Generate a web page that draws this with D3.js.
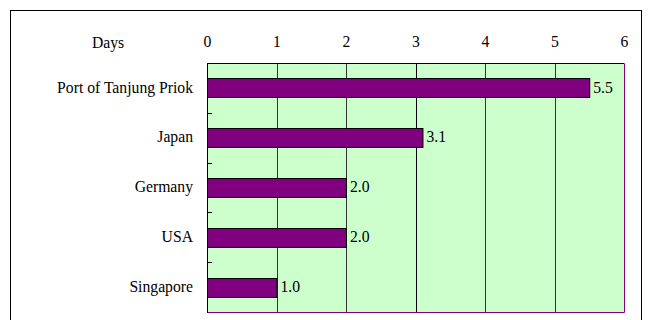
<!DOCTYPE html>
<html>
<head>
<meta charset="utf-8">
<script src="https://cdn.jsdelivr.net/npm/d3@7"></script>
<style>
  body { margin: 0; background: #fff; }
  svg text { font-family: 'Liberation Serif', 'Times New Roman', Times, serif !important; fill: #000; }
</style>
</head>
<body>
<svg width="652" height="320"></svg>
<script>
// data
const categories = ["Port of Tanjung Priok", "Japan", "Germany", "USA", "Singapore"];
const days = [5.5, 3.1, 2.0, 2.0, 1.0];
const xTicks = [0, 1, 2, 3, 4, 5, 6];

const svg = d3.select("svg");
const plot = { left: 207, top: 63, right: 624, bottom: 312 };
const fontSize = 15.7;

// outer frame
svg.append("rect")
    .attr("x", 10.5).attr("y", 10.5)
    .attr("width", 631).attr("height", 330)
    .attr("fill", "none").attr("stroke", "#000").attr("stroke-width", 1);

const x = d3.scaleLinear().domain([0, 6]).range([plot.left, plot.right]);
const y = d3.scaleBand().domain(categories)
    .range([plot.top, plot.bottom])
    .paddingInner(0.62).paddingOuter(0.31);
const step = y.step();

// plot background
svg.append("rect")
    .attr("x", plot.left).attr("y", plot.top)
    .attr("width", plot.right - plot.left).attr("height", plot.bottom - plot.top)
    .attr("fill", "#ccffcc");

// vertical grid
svg.append("g").selectAll("line")
    .data(xTicks.filter(d => d > 0 && d < 6))
    .join("line")
    .attr("x1", d => Math.round(x(d)) + 0.5).attr("x2", d => Math.round(x(d)) + 0.5)
    .attr("y1", plot.top).attr("y2", plot.bottom)
    .attr("stroke", d => d === 3 ? "#000" : "#333");

// plot border: top black, right/bottom purple
svg.append("line")
    .attr("x1", plot.left).attr("x2", plot.right + 0.5)
    .attr("y1", plot.top + 0.5).attr("y2", plot.top + 0.5)
    .attr("stroke", "#000");
svg.append("line")
    .attr("x1", plot.right + 0.5).attr("x2", plot.right + 0.5)
    .attr("y1", plot.top + 1).attr("y2", plot.bottom + 0.5)
    .attr("stroke", "#800080");
svg.append("line")
    .attr("x1", plot.left).attr("x2", plot.right + 0.5)
    .attr("y1", plot.bottom + 0.5).attr("y2", plot.bottom + 0.5)
    .attr("stroke", "#800080");

// bars
svg.append("g").selectAll("rect")
    .data(days)
    .join("rect")
    .attr("x", x(0) + 0.5)
    .attr("y", (d, i) => Math.round(y(categories[i])) + 0.5)
    .attr("width", d => x(d) - x(0))
    .attr("height", y.bandwidth())
    .attr("fill", "#800080")
    .attr("stroke", "#000");

// value labels
svg.append("g").selectAll("text")
    .data(days)
    .join("text")
    .attr("x", d => x(d) + 4)
    .attr("y", (d, i) => y(categories[i]) + y.bandwidth() / 2)
    .attr("dy", "0.3em")
    .attr("font-size", fontSize)
    .text(d => d.toFixed(1));

// x axis on top
const xAxis = svg.append("g")
    .attr("transform", `translate(0,${plot.top})`)
    .call(d3.axisTop(x).tickValues(xTicks).tickFormat(d3.format("d")).tickSize(0).tickPadding(16));
xAxis.select(".domain").remove();
xAxis.selectAll("text").attr("font-size", fontSize);

// y axis: category labels + inward ticks at band edges
const yAxis = svg.append("g")
    .attr("transform", `translate(${plot.left},0)`)
    .call(d3.axisLeft(y).tickSize(0).tickPadding(14));
yAxis.select(".domain").remove();
yAxis.selectAll("text").attr("font-size", fontSize).attr("dy", "0.3em");

svg.append("line")
    .attr("x1", plot.left + 0.5).attr("x2", plot.left + 0.5)
    .attr("y1", plot.top).attr("y2", plot.bottom + 1)
    .attr("stroke", "#000");
svg.append("g").selectAll("line")
    .data(d3.range(0, categories.length))
    .join("line")
    .attr("x1", plot.left).attr("x2", plot.left + 5)
    .attr("y1", i => Math.round(plot.top + i * step) + 0.5)
    .attr("y2", i => Math.round(plot.top + i * step) + 0.5)
    .attr("stroke", "#000");

// unit label
svg.append("text")
    .attr("x", 108).attr("y", 48)
    .attr("text-anchor", "middle")
    .attr("font-size", fontSize)
    .text("Days");
</script>
</body>
</html>
